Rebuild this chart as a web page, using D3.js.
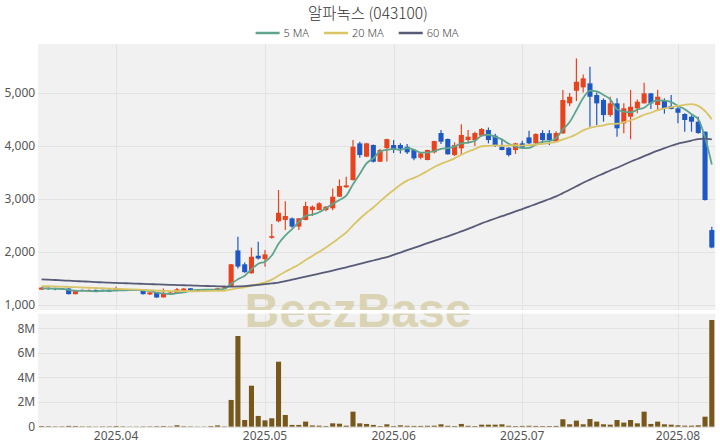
<!DOCTYPE html>
<html><head><meta charset="utf-8">
<script src="https://cdn.jsdelivr.net/npm/d3@7"></script>
<style>
body{margin:0;background:#fff;}
svg text{font-family:"Noto Sans","Noto Sans CJK KR",sans-serif;}
</style></head><body>
<svg id="c" width="720" height="448"></svg>
<script>
const title = "알파녹스 (043100)";
const dates = ["2025-03-17","2025-03-18","2025-03-19","2025-03-20","2025-03-21","2025-03-24","2025-03-25","2025-03-26","2025-03-27","2025-03-28","2025-03-31",
"2025-04-01","2025-04-02","2025-04-03","2025-04-04","2025-04-07","2025-04-08","2025-04-09","2025-04-10","2025-04-11","2025-04-14","2025-04-15","2025-04-16","2025-04-17","2025-04-18","2025-04-21","2025-04-22","2025-04-23","2025-04-24","2025-04-25","2025-04-28","2025-04-29","2025-04-30",
"2025-05-02","2025-05-07","2025-05-08","2025-05-09","2025-05-12","2025-05-13","2025-05-14","2025-05-15","2025-05-16","2025-05-19","2025-05-20","2025-05-21","2025-05-22","2025-05-23","2025-05-26","2025-05-27","2025-05-28","2025-05-29","2025-05-30",
"2025-06-02","2025-06-04","2025-06-05","2025-06-09","2025-06-10","2025-06-11","2025-06-12","2025-06-13","2025-06-16","2025-06-17","2025-06-18","2025-06-19","2025-06-20","2025-06-23","2025-06-24","2025-06-25","2025-06-26","2025-06-27","2025-06-30",
"2025-07-01","2025-07-02","2025-07-03","2025-07-04","2025-07-07","2025-07-08","2025-07-09","2025-07-10","2025-07-11","2025-07-14","2025-07-15","2025-07-16","2025-07-17","2025-07-18","2025-07-21","2025-07-22","2025-07-23","2025-07-24","2025-07-25","2025-07-28","2025-07-29","2025-07-30","2025-07-31",
"2025-08-01","2025-08-04","2025-08-05","2025-08-06","2025-08-07","2025-08-08"];
const open = [1290,1325,1320,1318,1312,1205,1285,1270,1285,1285,
1290,1275,1280,1288,1295,1265,1200,1238,1145,1215,
1220,1268,1315,1290,1295,1288,1300,1320,1345,2030,
1768,1600,1930,1865,2270,2580,2605,2635,2480,2605,
2792,2792,2792,2824,3043,3220,3358,4050,3800,4019,
3704,3960,4019,4019,3987,3925,3780,3736,3881,4245,
4132,3830,3956,4113,4113,4194,4302,4195,3987,3969,
3925,4050,4163,4050,4245,4240,4082,4239,4805,5043,
5107,5182,4962,4868,4585,4805,4428,4553,4711,4805,
4994,4774,4868,4755,4711,4604,4553,4459,4270,2415];
const high = [1340,1330,1325,1322,1316,1268,1295,1292,1292,1290,
1295,1345,1305,1300,1300,1270,1245,1240,1310,1250,
1320,1320,1320,1298,1300,1300,1320,1345,1775,2290,
1800,2083,2196,2038,2530,3170,2960,2650,2640,2950,
2880,2940,2870,3200,3370,3420,4113,4080,4060,4030,
3950,4135,4113,4050,4040,3940,3880,3930,4100,4300,
4140,4070,4410,4300,4270,4340,4350,4230,4130,3975,
4060,4100,4290,4240,4300,4300,4280,5057,5000,5654,
5350,5497,5010,4900,4930,4900,4805,5057,4880,5194,
5000,5060,4900,4962,4740,4620,4580,4553,4275,2478];
const low = [1285,1290,1280,1285,1200,1200,1265,1262,1270,1250,
1245,1270,1270,1280,1280,1200,1190,1135,1140,1205,
1215,1262,1275,1275,1280,1280,1295,1310,1340,1690,
1610,1590,1860,1723,2250,2560,2415,2460,2415,2600,
2680,2790,2770,2790,3040,3215,3350,3780,3790,3690,
3700,3710,3870,3860,3850,3730,3750,3730,3860,4040,
3840,3810,3830,4050,4000,4180,4050,3980,3920,3800,
3850,3945,4040,4040,4050,4020,4075,4230,4750,4850,
5010,4365,4396,4460,4553,4176,4239,4126,4620,4800,
4700,4680,4610,4692,4428,4270,4270,4230,2970,2070];
const close = [1328,1300,1298,1300,1205,1262,1270,1285,1275,1258,
1252,1300,1298,1295,1288,1205,1238,1142,1212,1235,
1295,1310,1282,1282,1288,1295,1315,1335,1768,1725,
1620,1910,1878,1955,2300,2740,2680,2480,2635,2868,
2855,2918,2855,3043,3245,3258,3987,3830,4050,3704,
3925,4130,3925,3950,3881,3767,3862,3925,4094,4082,
3843,4019,4208,4176,4245,4321,4113,4019,3925,3830,
4050,3970,4050,4226,4113,4113,4245,4868,4930,5213,
5277,4930,4805,4585,4805,4334,4711,4742,4836,4994,
4805,4930,4717,4700,4628,4491,4459,4245,2981,2085];
const volume = [0.05,0.04,0.03,0.03,0.06,0.05,0.03,0.03,0.02,0.03,
0.03,0.05,0.03,0.02,0.02,0.03,0.03,0.04,0.05,0.03,
0.11,0.04,0.03,0.02,0.02,0.05,0.10,0.03,2.17,7.37,
0.54,3.33,0.87,0.51,0.68,5.28,0.95,0.14,0.14,0.41,
0.10,0.08,0.05,0.27,0.24,0.08,1.22,0.27,0.22,0.14,
0.05,0.19,0.05,0.11,0.07,0.06,0.06,0.07,0.08,0.19,
0.07,0.05,0.22,0.07,0.05,0.16,0.16,0.16,0.19,0.07,
0.05,0.06,0.07,0.06,0.05,0.05,0.06,0.60,0.19,0.49,
0.19,0.62,0.41,0.19,0.16,0.54,0.33,0.54,0.27,1.22,
0.22,0.41,0.19,0.16,0.11,0.08,0.08,0.11,0.81,8.67]; // millions
const ma5 = [1315,1312,1308,1306,1286,1273,1267,1264,1259,1270,
1268,1274,1277,1281,1287,1277,1265,1234,1217,1206,
1224,1239,1267,1281,1291,1291,1292,1303,1400,1488,
1553,1672,1780,1818,1933,2157,2311,2431,2567,2681,
2704,2751,2826,2908,2983,3064,3278,3473,3674,3766,
3899,3928,3947,3927,3962,3931,3877,3877,3906,3946,
3961,3993,4049,4066,4098,4194,4213,4175,4125,4042,
3987,3959,3965,4025,4082,4094,4149,4313,4454,4674,
4907,5044,5031,4962,4880,4692,4648,4635,4686,4723,
4818,4861,4856,4829,4756,4693,4599,4505,4161,3652];
const ma20 = [1358,1354,1350,1346,1341,1336,1331,1326,1321,1316,
1311,1306,1301,1296,1291,1285,1279,1273,1268,1264,
1260,1261,1260,1259,1263,1265,1267,1269,1294,1317,
1335,1366,1395,1428,1479,1556,1628,1695,1766,1848,
1926,2006,2085,2173,2271,2369,2503,2628,2742,2841,
2956,3067,3169,3269,3348,3399,3458,3530,3603,3664,
3713,3768,3836,3893,3943,3996,4002,4011,4005,4011,
4017,4009,4015,4029,4041,4058,4077,4124,4166,4223,
4295,4341,4371,4391,4419,4420,4450,4486,4532,4590,
4628,4676,4709,4733,4759,4778,4789,4758,4661,4505];
const ma60 = [1485,1478,1472,1465,1459,1452,1446,1440,1433,1427,
1421,1416,1412,1408,1403,1399,1394,1390,1386,1381,
1377,1373,1369,1365,1361,1357,1353,1349,1346,1350,
1358,1368,1380,1393,1407,1422,1450,1478,1506,1534,
1562,1592,1621,1650,1680,1712,1744,1776,1808,1840,
1872,1902,1946,1990,2034,2078,2122,2166,2210,2254,
2296,2341,2389,2437,2488,2539,2586,2632,2676,2719,
2766,2810,2856,2905,2952,3000,3050,3112,3174,3240,
3306,3366,3425,3480,3539,3590,3647,3704,3755,3809,
3862,3912,3959,4005,4044,4073,4103,4132,4138,4125];
const priceTicks = [1000,2000,3000,4000,5000];
const volumeTicks = [0,2,4,6,8];
const monthTickDates = ["2025-04-01","2025-05-02","2025-06-02","2025-07-01","2025-08-01"];
const monthTickLabels = ["2025.04","2025.05","2025.06","2025.07","2025.08"];
const maNames = ["5 MA","20 MA","60 MA"];
const maColors = ["#5fa48c","#d9c566","#575b78"];

const svg = d3.select("#c");
const L=38.2, R=715.2, PT=44, PB=310, VT=313.5, VB=428;
const x = d3.scaleBand().domain(dates).range([L,R]).paddingInner(0.25).paddingOuter(0.125);
const y = d3.scaleLinear().domain([906,5925]).range([PB,PT]);
const yv = d3.scaleLinear().domain([-0.11,9.2]).range([VB,VT]);
const cx = d => x(d) + x.bandwidth()/2;
const UP="#e8431c", DOWN="#1d58c4";

svg.append("rect").attr("x",L).attr("y",PT).attr("width",R-L).attr("height",PB-PT).attr("fill","#f1f1f1");
svg.append("rect").attr("x",L).attr("y",VT).attr("width",R-L).attr("height",VB-VT).attr("fill","#f1f1f1");

const grid = svg.append("g").attr("stroke","#e2e2e2").attr("stroke-width",1);
grid.selectAll(".hp").data(priceTicks).join("line")
  .attr("x1",L).attr("x2",R).attr("y1",d=>Math.round(y(d))+0.5).attr("y2",d=>Math.round(y(d))+0.5);
grid.selectAll(".hv").data(volumeTicks).join("line").attr("class","hv")
  .attr("x1",L).attr("x2",R).attr("y1",d=>Math.round(yv(d))+0.5).attr("y2",d=>Math.round(yv(d))+0.5);
monthTickDates.forEach(d=>{
  const xx = Math.round(cx(d))+0.5;
  grid.append("line").attr("x1",xx).attr("x2",xx).attr("y1",PT).attr("y2",PB);
  grid.append("line").attr("x1",xx).attr("x2",xx).attr("y1",VT).attr("y2",VB);
});

svg.append("text").text("BeezBase").attr("x",358).attr("y",327).attr("text-anchor","middle")
  .style("font-family","'Liberation Sans',Arial,sans-serif").style("font-weight","bold").style("font-size","48px")
  .attr("fill","#d6cda6").attr("opacity",0.8);
svg.append("rect").attr("x",L).attr("y",PB).attr("width",R-L).attr("height",VT-PB).attr("fill","#fff");

// candles
const idx = d3.range(dates.length);
const cg = svg.append("g");
cg.selectAll(".w").data(idx).join("line")
  .attr("x1",i=>cx(dates[i])).attr("x2",i=>cx(dates[i]))
  .attr("y1",i=>y(high[i])).attr("y2",i=>y(low[i]))
  .attr("stroke",i=>close[i]>=open[i]?UP:DOWN).attr("stroke-width",1.2);
cg.selectAll(".b").data(idx).join("rect")
  .attr("x",i=>x(dates[i])).attr("width",x.bandwidth())
  .attr("y",i=>y(Math.max(open[i],close[i])))
  .attr("height",i=>Math.max(1.2,Math.abs(y(open[i])-y(close[i]))))
  .attr("fill",i=>close[i]>=open[i]?UP:DOWN);

// MA lines
[ma5,ma20,ma60].forEach((arr,k)=>{
  svg.append("path").datum(idx)
    .attr("d",d3.line().x(i=>cx(dates[i])).y(i=>y(arr[i])).curve(d3.curveMonotoneX))
    .attr("fill","none").attr("stroke",maColors[k]).attr("stroke-width",1.8);
});

// volume
svg.append("g").selectAll("rect").data(idx).join("rect")
  .attr("x",i=>x(dates[i])).attr("width",x.bandwidth())
  .attr("y",i=>yv(volume[i])).attr("height",i=>Math.max(0,yv(0)-yv(volume[i])))
  .attr("fill","#77581a");

// axes
const fmt = d3.format(",");
const ay = svg.append("g").attr("transform",`translate(${L-1},0)`)
  .call(d3.axisLeft(y).tickValues(priceTicks).tickFormat(fmt).tickSize(0).tickPadding(2));
const av = svg.append("g").attr("transform",`translate(${L-1},0)`)
  .call(d3.axisLeft(yv).tickValues(volumeTicks).tickFormat(d=>d===0?"0":d+"M").tickSize(0).tickPadding(2));
const ax = svg.append("g").attr("transform",`translate(0,${VB})`)
  .call(d3.axisBottom(x).tickValues(monthTickDates).tickFormat((d,i)=>monthTickLabels[i]).tickSize(0).tickPadding(3));
[ay,av,ax].forEach(g=>{
  g.select(".domain").remove();
  g.selectAll("text").attr("fill","#555").style("font-size","12px").style("font-family","'Noto Sans',sans-serif");
});

// title
svg.append("text").text(title).attr("x",368).attr("y",19).attr("text-anchor","middle")
  .style("font-family","'Noto Sans CJK KR',sans-serif").style("font-size","15.5px").style("font-weight","300").attr("fill","#333");

// legend
const lg = svg.append("g");
let cxp = 0;
maNames.forEach((n,k)=>{
  const g = lg.append("g").attr("transform",`translate(${cxp},0)`);
  g.append("line").attr("x1",0).attr("x2",24).attr("y1",0).attr("y2",0).attr("stroke",maColors[k]).attr("stroke-width",2.5);
  const t = g.append("text").text(n).attr("x",28).attr("y",4).style("font-size","11px").style("font-weight","300").attr("fill","#444");
  cxp += 28 + t.node().getComputedTextLength() + 15;
});
const lw = cxp - 15;
lg.attr("transform",`translate(${357 - lw/2},33)`);
</script>
</body></html>
